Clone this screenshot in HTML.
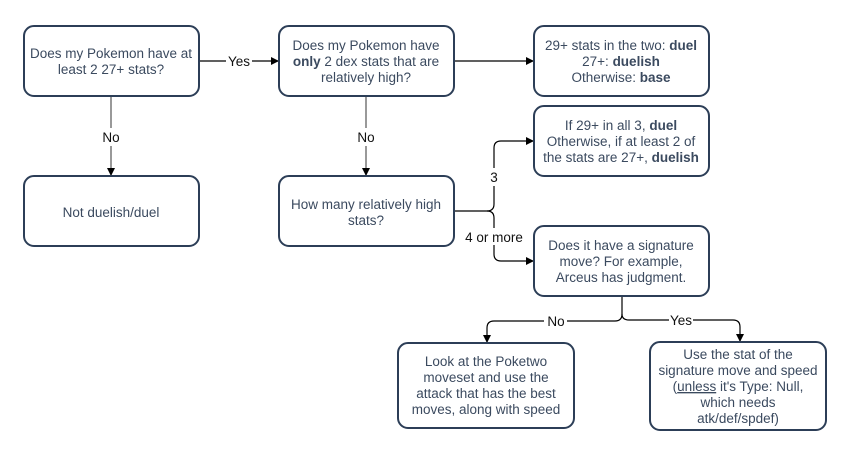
<!DOCTYPE html>
<html><head><style>
body{margin:0;background:#fff;}
svg{display:block;font-family:"Liberation Sans",sans-serif;}
.b{fill:#fff;stroke:#2c3e57;stroke-width:2;}
.t{font-size:13.5px;fill:#3b4a5f;text-anchor:middle;}
.bo{font-weight:bold;}
.l{fill:none;stroke:#000;stroke-width:1.2;}
.g{fill:none;stroke:#777;stroke-width:1.5;}
.lb{font-size:13.5px;fill:#111;text-anchor:middle;}
</style></head><body>
<svg width="858" height="451" viewBox="0 0 858 451">
<defs><marker id="a" markerWidth="8" markerHeight="8" refX="7" refY="4" orient="auto" markerUnits="userSpaceOnUse"><path d="M0,0 L8,4 L0,8z" fill="#000"/></marker></defs>
<path class="l" d="M252,61 H278" marker-end="url(#a)"/>
<path class="l" d="M199,61 H226"/>
<text class="lb" x="239" y="66">Yes</text>
<path class="g" d="M111,96 V128"/><path class="g" d="M111,146 V170"/><path class="l" d="M111,170 V175" marker-end="url(#a)"/>
<text class="lb" x="111" y="142">No</text>
<path class="g" d="M366,96 V128"/><path class="g" d="M366,146 V170"/><path class="l" d="M366,170 V175" marker-end="url(#a)"/>
<text class="lb" x="366" y="142">No</text>
<path class="l" d="M454,61 H533" marker-end="url(#a)"/>
<path class="l" d="M454,211 H487 Q494,211 494,204 V186 M494,168 V148 Q494,141 501,141 H533" marker-end="url(#a)"/>
<text class="lb" x="494" y="182">3</text>
<path class="l" d="M487,211 Q494,211 494,218 V228 M494,245 V254 Q494,261 501,261 H533" marker-end="url(#a)"/>
<text class="lb" x="494" y="242">4 or more</text>
<path class="l" d="M622,296 V314 Q622,321 615,321 H567 M544,321 H494 Q487,321 487,328 V342" marker-end="url(#a)"/>
<text class="lb" x="556" y="326">No</text>
<path class="l" d="M622,314 Q622,320 629,320 H669 M693,320 H733 Q740,320 740,327 V341" marker-end="url(#a)"/>
<text class="lb" x="681" y="325">Yes</text>
<rect class="b" x="24" y="26" width="175" height="70" rx="10"/>
<text class="t" x="111" y="58">Does my Pokemon have at</text><text class="t" x="111" y="74">least 2 27+ stats?</text>
<rect class="b" x="279" y="26" width="175" height="70" rx="10"/>
<text class="t" x="366" y="50">Does my Pokemon have</text>
<text class="t" x="366" y="66"><tspan class="bo">only</tspan> 2 dex stats that are</text>
<text class="t" x="366" y="82">relatively high?</text>
<rect class="b" x="534" y="26" width="175" height="70" rx="10"/>
<text class="t" x="621" y="50">29+ stats in the two: <tspan class="bo">duel</tspan></text>
<text class="t" x="621" y="66">27+: <tspan class="bo">duelish</tspan></text>
<text class="t" x="621" y="82">Otherwise: <tspan class="bo">base</tspan></text>
<rect class="b" x="534" y="106" width="175" height="70" rx="10"/>
<text class="t" x="621" y="130">If 29+ in all 3, <tspan class="bo">duel</tspan></text>
<text class="t" x="621" y="146">Otherwise, if at least 2 of</text>
<text class="t" x="621" y="162">the stats are 27+, <tspan class="bo">duelish</tspan></text>
<rect class="b" x="24" y="176" width="175" height="70" rx="10"/>
<text class="t" x="111" y="217">Not duelish/duel</text>
<rect class="b" x="279" y="176" width="175" height="70" rx="10"/>
<text class="t" x="366" y="209">How many relatively high</text><text class="t" x="366" y="225">stats?</text>
<rect class="b" x="534" y="226" width="175" height="70" rx="10"/>
<text class="t" x="621" y="250">Does it have a signature</text>
<text class="t" x="621" y="266">move? For example,</text>
<text class="t" x="621" y="282">Arceus has judgment.</text>
<rect class="b" x="398" y="343" width="176" height="85" rx="10"/>
<text class="t" x="486" y="366">Look at the Poketwo</text>
<text class="t" x="486" y="382">moveset and use the</text>
<text class="t" x="486" y="398">attack that has the best</text>
<text class="t" x="486" y="414">moves, along with speed</text>
<rect class="b" x="650" y="342" width="176" height="88" rx="10"/>
<text class="t" x="738" y="359">Use the stat of the</text>
<text class="t" x="738" y="375">signature move and speed</text>
<text class="t" x="738" y="391">(<tspan text-decoration="underline">unless</tspan> it's Type: Null,</text>
<text class="t" x="738" y="407">which needs</text>
<text class="t" x="738" y="423">atk/def/spdef)</text>
</svg>
</body></html>
